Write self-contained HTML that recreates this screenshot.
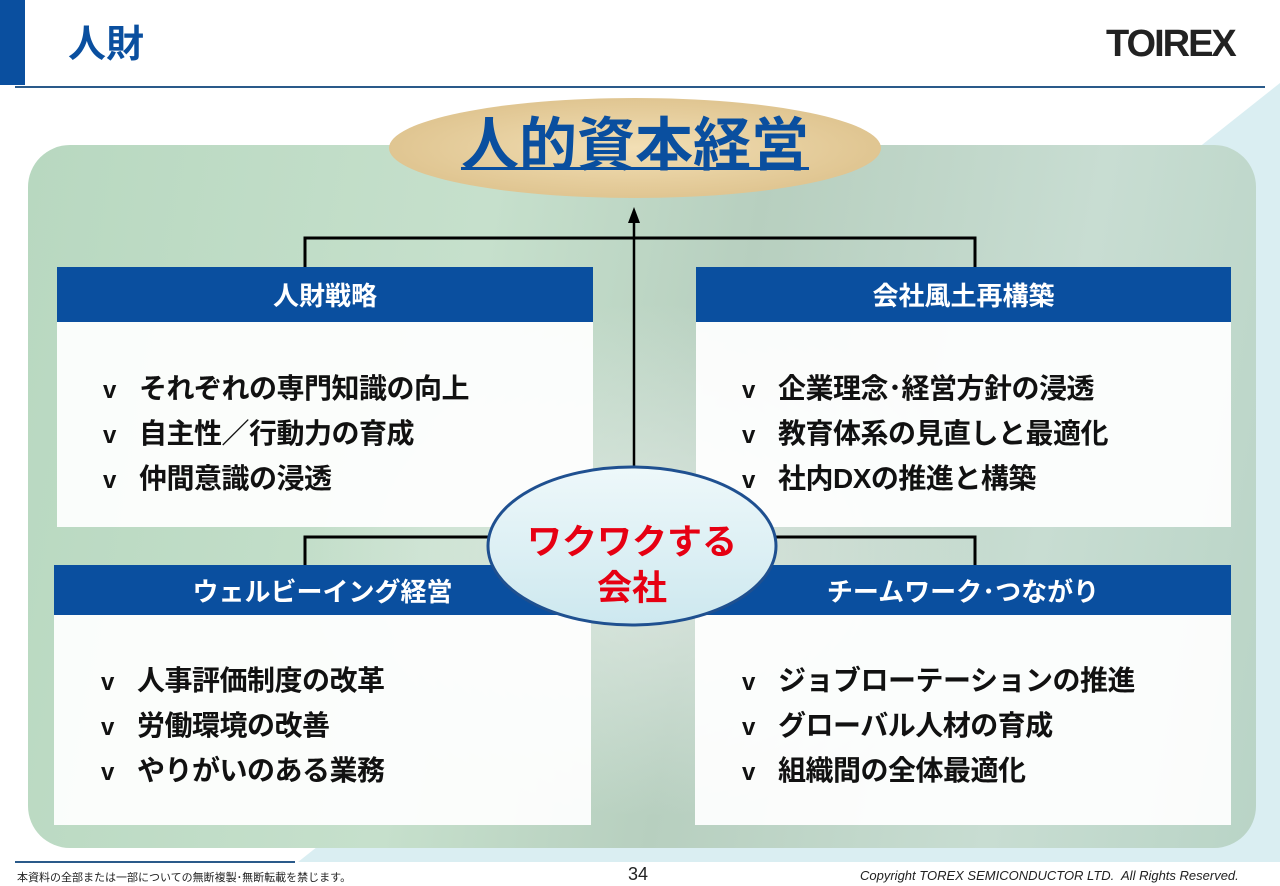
<!DOCTYPE html>
<html><head><meta charset="utf-8"><style>
*{margin:0;padding:0;box-sizing:border-box}
body{width:1280px;height:886px;position:relative;background:#fff;overflow:hidden;font-family:"Liberation Sans","Noto Sans CJK JP",sans-serif}
.a{position:absolute}
.hdr{background:#0a4f9f;color:#fff;font-weight:bold;font-size:26px;text-align:center;display:flex;align-items:center;justify-content:center}
.body{background:rgba(255,255,255,0.93)}
.list{position:absolute;font-weight:bold;font-size:28px;line-height:43px;color:#111;letter-spacing:-0.5px}
.list span{display:inline-block;width:36px;font-weight:bold;font-size:24px;font-family:"Liberation Sans",sans-serif}
</style></head><body>
<div class="a" style="left:0;top:0;width:25px;height:85px;background:#0a4f9f"></div>
<div class="a" style="left:68px;top:20px;font-size:38px;font-weight:bold;color:#0a4f9f;line-height:50px">人財</div>
<div class="a" style="left:1106px;top:24px;font-size:38px;font-weight:bold;color:#222;letter-spacing:-2px;line-height:40px">TOIREX</div>
<div class="a" style="left:15px;top:86px;width:1250px;height:2px;background:#2a5a8a"></div>
<svg class="a" style="left:0;top:0" width="1280" height="886">
<polygon points="1280,83 1280,862 298,862" fill="#daeef2"/>
</svg>
<div class="a" style="left:28px;top:145px;width:1228px;height:703px;border-radius:42px;background:linear-gradient(100deg,#b8d8c0 0%,#c6e0cc 35%,#b7cfbf 55%,#c8ddd2 80%,#b9d4c6 100%)"></div>
<div class="a" style="left:300px;top:300px;width:700px;height:520px;background:radial-gradient(ellipse at center,rgba(235,240,238,0.7),rgba(235,240,238,0) 70%)"></div>
<svg class="a" style="left:0;top:0" width="1280" height="886">
<defs><radialGradient id="t" cx="50%" cy="50%" r="60%"><stop offset="0" stop-color="#f2dfb5"/><stop offset="1" stop-color="#dcc08a"/></radialGradient>
<linearGradient id="b" x1="0" y1="0" x2="0" y2="1"><stop offset="0" stop-color="#eef8fa"/><stop offset="1" stop-color="#cde8ef"/></linearGradient></defs>
<ellipse cx="635" cy="148" rx="246" ry="50" fill="url(#t)"/>
<line x1="634" y1="466" x2="634" y2="222" stroke="#000" stroke-width="2.5"/>
<polygon points="634,207 628,223 640,223" fill="#000"/>
<polyline points="305,267 305,238 975,238 975,267" fill="none" stroke="#000" stroke-width="3"/>
<polyline points="305,566 305,537 975,537 975,566" fill="none" stroke="#000" stroke-width="3"/>
</svg>
<div class="a" style="left:390px;top:108px;width:490px;text-align:center;font-size:58px;font-weight:bold;color:#0a4f9f;text-decoration:underline;text-decoration-thickness:3px;line-height:76px">人的資本経営</div>

<div class="a body" style="left:57px;top:322px;width:536px;height:205px"></div>
<div class="a hdr" style="left:57px;top:267px;width:536px;height:55px">人財戦略</div>
<div class="list" style="left:103px;top:367px"><span>v</span>それぞれの専門知識の向上<br><span>v</span>自主性／行動力の育成<br><span>v</span>仲間意識の浸透</div>

<div class="a body" style="left:696px;top:322px;width:535px;height:205px"></div>
<div class="a hdr" style="left:696px;top:267px;width:535px;height:55px">会社風土再構築</div>
<div class="list" style="left:742px;top:367px"><span>v</span>企業理念･経営方針の浸透<br><span>v</span>教育体系の見直しと最適化<br><span>v</span>社内DXの推進と構築</div>

<div class="a body" style="left:54px;top:615px;width:537px;height:210px"></div>
<div class="a hdr" style="left:54px;top:565px;width:537px;height:50px">ウェルビーイング経営</div>
<div class="list" style="left:101px;top:659px"><span>v</span>人事評価制度の改革<br><span>v</span>労働環境の改善<br><span>v</span>やりがいのある業務</div>

<div class="a body" style="left:695px;top:615px;width:536px;height:210px"></div>
<div class="a hdr" style="left:695px;top:565px;width:536px;height:50px">チームワーク･つながり</div>
<div class="list" style="left:742px;top:659px"><span>v</span>ジョブローテーションの推進<br><span>v</span>グローバル人材の育成<br><span>v</span>組織間の全体最適化</div>

<svg class="a" style="left:0;top:0" width="1280" height="886">
<ellipse cx="632" cy="546" rx="144" ry="79" fill="url(#b)" stroke="#1f5090" stroke-width="3"/>
</svg>
<div class="a" style="left:482px;top:520px;width:300px;text-align:center;font-size:35px;font-weight:bold;color:#e60012;line-height:46px">ワクワクする<br>会社</div>

<div class="a" style="left:15px;top:861px;width:280px;height:2px;background:#2a5a8a"></div>
<div class="a" style="left:17px;top:869px;font-size:11px;color:#222">本資料の全部または一部についての無断複製･無断転載を禁じます。</div>
<div class="a" style="left:628px;top:864px;font-size:18px;color:#222">34</div>
<div class="a" style="left:860px;top:868px;font-size:13px;font-style:italic;color:#222">Copyright TOREX SEMICONDUCTOR LTD.&nbsp; All Rights Reserved.</div>
</body></html>
